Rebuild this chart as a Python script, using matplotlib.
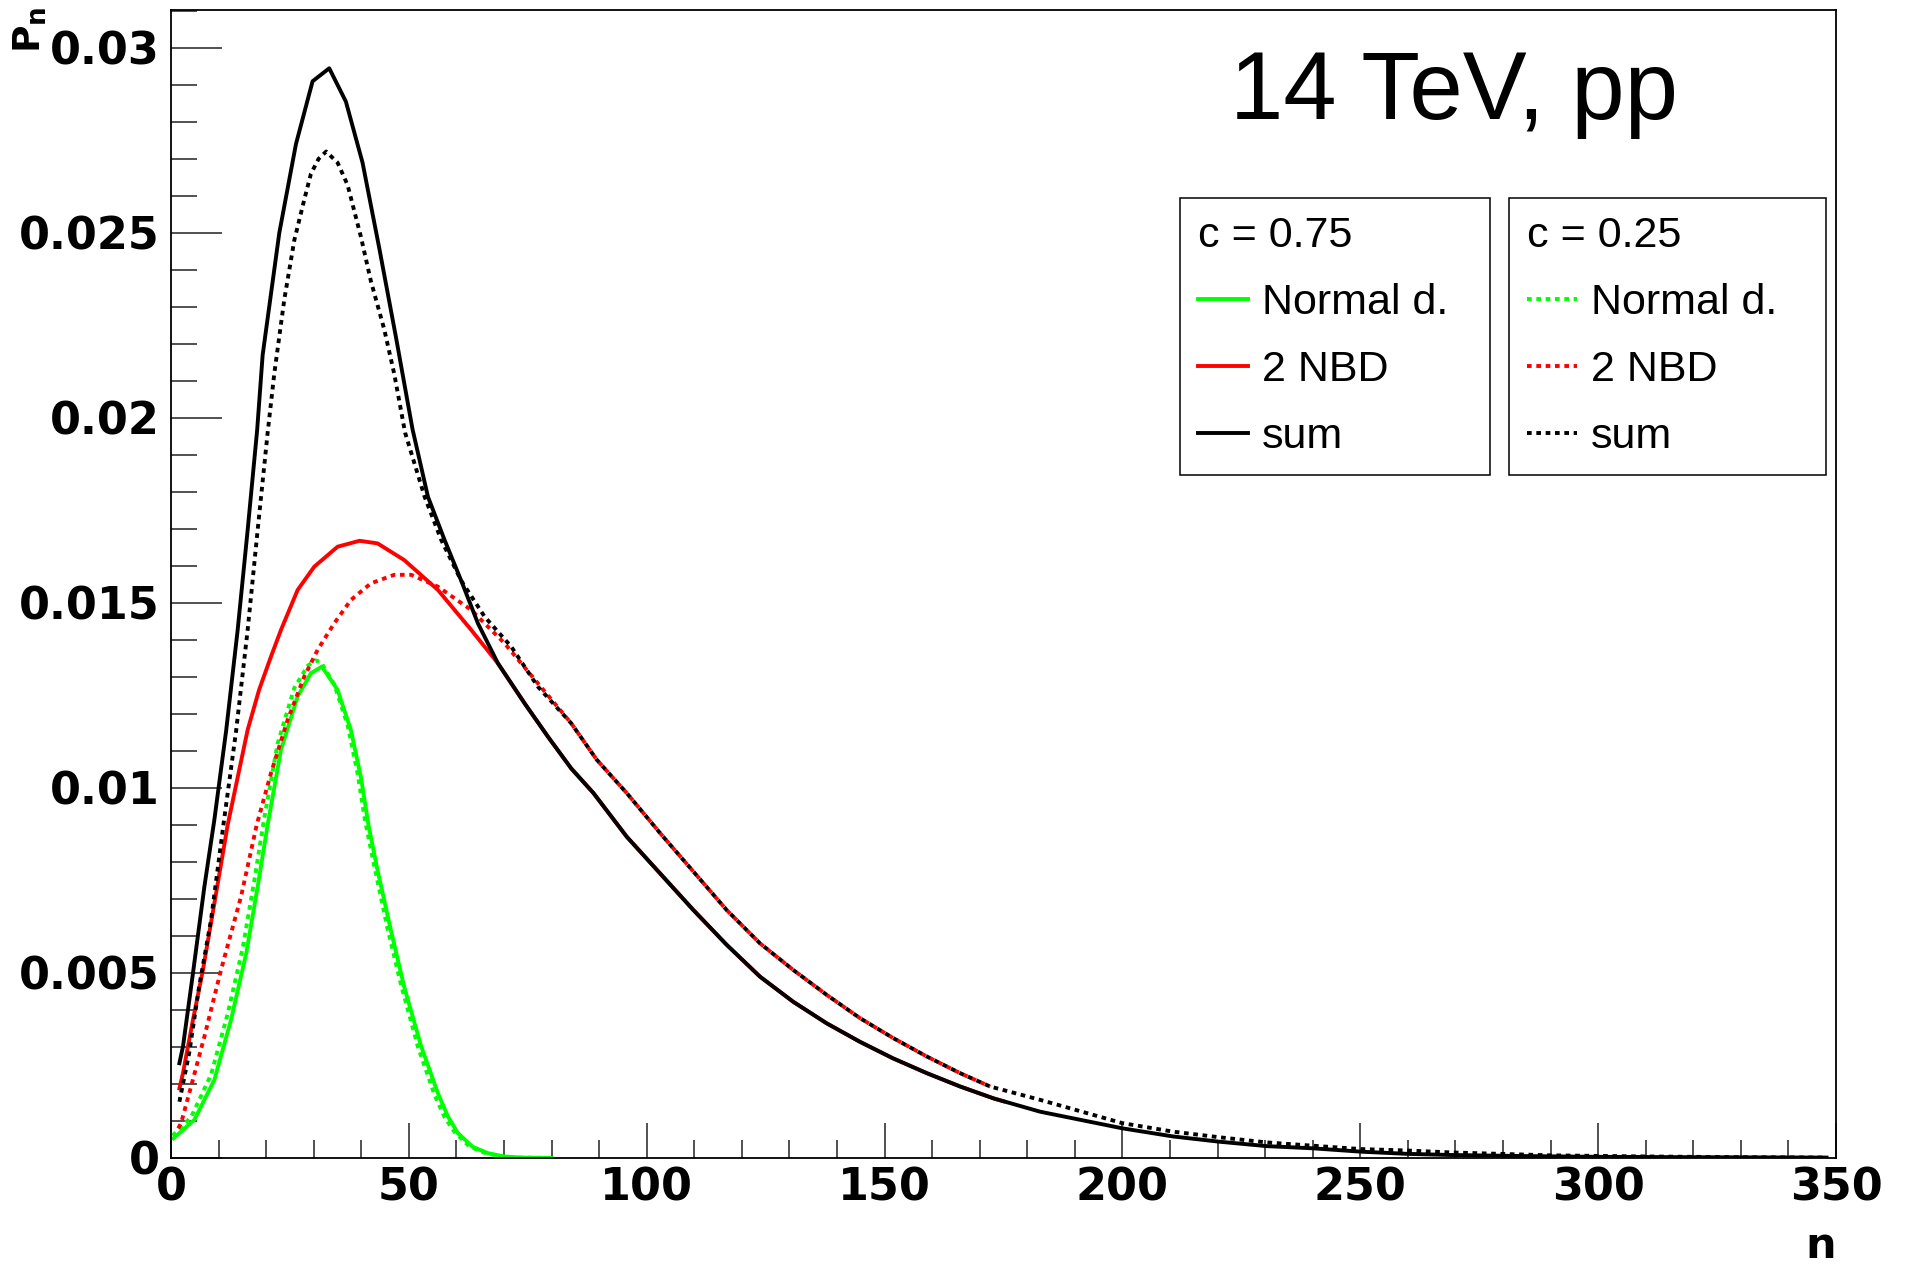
import matplotlib
matplotlib.use("Agg")
import matplotlib.pyplot as plt
from matplotlib.ticker import MultipleLocator

# values
# c = 0.75 (solid lines)
n_norm75 = [0.5, 4.9, 9.1, 12.6, 15.8, 18.2, 20.3, 23.1, 26.6, 29.4, 31.7, 35.0, 37.8, 39.9,
            41.5, 43.4, 46.2, 49.0, 52.6, 56.1, 58.2, 60.3, 63.4, 66.6, 70.0, 73.6, 80.0]
p_norm75 = [0.00053, 0.00103, 0.00211, 0.00373, 0.00553, 0.00733, 0.0090, 0.01103, 0.01247,
            0.0131, 0.01328, 0.01265, 0.01157, 0.0103, 0.0090, 0.00778, 0.00616, 0.00463,
            0.00301, 0.00175, 0.00112, 0.00067, 0.0003, 0.00013, 0.00004, 0.00001, 0.0]

n_nbd75 = [1.75, 2.5, 4.6, 6.7, 9.1, 11.9, 16.1, 18.5, 21.0, 23.1, 26.6, 30.1, 35.0, 39.6,
           43.4, 49.0, 56.1, 63.1, 68.7, 74.3, 79.2, 84.1, 88.8, 95.8, 102.8, 109.8, 116.8,
           123.8, 130.8, 137.8, 144.8, 151.8, 158.9, 165.9, 172.9, 175.0]
p_nbd75 = [0.00188, 0.00229, 0.00373, 0.00508, 0.00688, 0.0090, 0.01157, 0.01265, 0.01355,
           0.01427, 0.01535, 0.01598, 0.01652, 0.01668, 0.01661, 0.01616, 0.01535, 0.01427,
           0.01337, 0.01229, 0.01139, 0.01053, 0.00986, 0.00868, 0.00769, 0.0067, 0.00576,
           0.0049, 0.00422, 0.00364, 0.00314, 0.00269, 0.00229, 0.00193, 0.00161, 0.00153]

n_sum75 = [1.75, 2.5, 4.6, 7.0, 9.1, 11.6, 14.0, 16.1, 18.1, 19.25, 22.75, 26.25, 29.75,
           33.25, 36.75, 40.25, 43.75, 47.25, 50.75, 54.0, 57.5, 61.0, 64.5, 68.7, 74.3,
           79.2, 84.1, 88.8, 95.8, 102.8, 109.8, 116.8, 123.8, 130.8, 137.8, 144.8, 151.8,
           158.9, 165.9, 172.9, 182.7, 200.0, 210.7, 220.3, 230.3, 240.1, 250.1, 260.0,
           268.9, 285.0, 300.0, 320.0, 348.0]
p_sum75 = [0.00256, 0.00301, 0.00499, 0.00733, 0.00914, 0.01157, 0.01427, 0.01697, 0.01968,
           0.0217, 0.0250, 0.0274, 0.0291, 0.02945, 0.02855, 0.0269, 0.0246, 0.0222, 0.0197,
           0.01787, 0.0167, 0.0156, 0.01445, 0.01337, 0.01229, 0.01139, 0.01053, 0.00986,
           0.00868, 0.00769, 0.0067, 0.00576, 0.0049, 0.00422, 0.00364, 0.00314, 0.00269,
           0.00229, 0.00193, 0.00161, 0.00125, 0.0008, 0.00058, 0.00044, 0.00032, 0.00026,
           0.00017, 0.00011, 0.00008, 0.00005, 0.00003, 0.00002, 0.00001]

# c = 0.25 (dotted lines)
n_norm25 = [0.3, 4.2, 8.4, 11.9, 15.1, 17.5, 19.6, 22.4, 25.9, 28.7, 30.3, 31.5, 34.3, 37.1,
            39.2, 40.8, 42.7, 45.5, 48.3, 51.9, 55.4, 57.5, 59.6, 62.7, 65.9, 69.3, 72.9, 80.0]
p_norm25 = [0.0006, 0.0011, 0.00225, 0.0039, 0.0057, 0.0075, 0.0092, 0.0112, 0.0127, 0.0133,
            0.01345, 0.0134, 0.0128, 0.0117, 0.0104, 0.0091, 0.0079, 0.0062, 0.0047, 0.0030,
            0.0017, 0.0011, 0.0007, 0.00031, 0.00014, 0.00004, 0.00001, 0.0]

n_nbd25 = [1.5, 2.1, 4.2, 7.0, 10.5, 14.7, 18.0, 21.0, 24.5, 28.0, 30.8, 34.3, 37.8, 42.0,
           46.9, 50.5, 56.1, 63.1, 70.1, 77.1, 84.1, 89.5, 95.8, 102.8, 109.8, 116.8, 123.8,
           130.8, 137.8, 144.8, 151.8, 158.9, 165.9, 172.2]
p_nbd25 = [0.0008, 0.00094, 0.00193, 0.00328, 0.00508, 0.00706, 0.0090, 0.0104, 0.01184,
           0.01301, 0.01373, 0.01445, 0.01508, 0.01553, 0.01576, 0.01576, 0.01544, 0.01481,
           0.01391, 0.01283, 0.01175, 0.01076, 0.00986, 0.00878, 0.00774, 0.0067, 0.0058,
           0.00508, 0.00441, 0.00378, 0.00324, 0.00274, 0.00229, 0.00193]

n_sum25 = [1.75, 3.8, 5.9, 8.4, 11.0, 13.7, 16.1, 18.2, 20.3, 21.7, 23.8, 25.9, 28.0, 29.4,
           31.0, 32.6, 35.0, 37.1, 39.9, 42.0, 44.8, 46.9, 49.2, 53.3, 56.8, 61.0, 65.9,
           71.5, 77.1, 84.1, 89.5, 95.8, 102.8, 109.8, 116.8, 123.8, 130.8, 137.8, 144.8,
           151.8, 158.9, 165.9, 172.2, 182.7, 200.0, 210.7, 220.3, 230.3, 240.1, 250.1,
           260.0, 268.9, 290.0, 310.0, 330.0, 348.0]
p_sum25 = [0.00152, 0.00283, 0.00463, 0.00643, 0.009, 0.01157, 0.01427, 0.01697, 0.0196,
           0.0212, 0.0232, 0.0248, 0.0259, 0.0266, 0.0270, 0.0272, 0.0269, 0.0263, 0.0249,
           0.0237, 0.0224, 0.0212, 0.0196, 0.01787, 0.0167, 0.0156, 0.01463, 0.01382,
           0.01274, 0.01175, 0.01076, 0.00986, 0.00878, 0.00774, 0.0067, 0.0058, 0.00508,
           0.00441, 0.00378, 0.00324, 0.00274, 0.00229, 0.00193, 0.00157, 0.00094, 0.00071,
           0.00056, 0.00042, 0.00033, 0.00024, 0.0002, 0.00015, 0.00007, 0.00004, 0.00002,
           0.00001]

xticks = [0, 50, 100, 150, 200, 250, 300, 350]
yticks = [0, 0.005, 0.01, 0.015, 0.02, 0.025, 0.03]
yticklabels = ['0', '0.005', '0.01', '0.015', '0.02', '0.025', '0.03']
entry_labels = ['Normal d.', '2 NBD', 'sum']

fig = plt.figure(figsize=(19.05, 12.75), dpi=100)
ax = fig.add_axes([0.0898, 0.0918, 0.874, 0.9004])

lw = 2.8
dot = (0, (1.2, 1.2))
g75, = ax.plot(n_norm75, p_norm75, color='#00ff00', lw=lw)
g25, = ax.plot(n_norm25, p_norm25, color='#00ff00', lw=lw, ls=dot)
r75, = ax.plot(n_nbd75, p_nbd75, color='#ff0000', lw=lw)
r25, = ax.plot(n_nbd25, p_nbd25, color='#ff0000', lw=lw, ls=dot)
k75, = ax.plot(n_sum75, p_sum75, color='black', lw=lw)
k25, = ax.plot(n_sum25, p_sum25, color='black', lw=lw, ls=dot)

ax.set_xlim(0, 350)
ax.set_ylim(0, 0.031027)
ax.set_xticks(xticks)
ax.set_xticklabels([str(t) for t in xticks], fontfamily='DejaVu Sans',
                   fontweight='bold', fontsize=32)
ax.set_yticks(yticks)
ax.set_yticklabels(yticklabels, fontfamily='DejaVu Sans', fontweight='bold', fontsize=32)
ax.xaxis.set_minor_locator(MultipleLocator(10))
ax.yaxis.set_minor_locator(MultipleLocator(0.001))
ax.tick_params(which='both', direction='in', top=False, right=False, color='#222222')
ax.tick_params(axis='y', which='major', length=37, width=1.1, pad=8)
ax.tick_params(axis='y', which='minor', length=18.5, width=1.1)
ax.tick_params(axis='x', which='major', length=25, width=1.1, pad=6)
ax.tick_params(axis='x', which='minor', length=13, width=1.1)
for s in ax.spines.values():
    s.set_linewidth(1.3)

# title and axis labels (ROOT style)
fig.text(0.6457, 0.9067, '14 TeV, pp', fontsize=69, family='Liberation Sans',
         ha='left', va='baseline')
fig.text(0.9638, 0.006, 'n', fontsize=31, family='DejaVu Sans', fontweight='bold',
         ha='right', va='bottom')
fig.text(0.016, 0.995, r'$\mathbf{P_{n}}$', fontsize=27, rotation=90,
         ha='center', va='top')

# two legend boxes
font = dict(family='Liberation Sans', size=31)
common = dict(loc='upper left', mode='expand', borderaxespad=0, alignment='left',
              prop=font, title_fontproperties=font, frameon=True, fancybox=False,
              edgecolor='black', framealpha=1, borderpad=0.41, labelspacing=0.63,
              handlelength=1.17, handletextpad=0.32)
leg1 = ax.legend([g75, r75, k75], entry_labels, title='c = 0.75',
                 bbox_to_anchor=(0.606, 0.597, 0.186, 0.239), **common)
leg1.get_frame().set_linewidth(1.1)
ax.add_artist(leg1)
leg2 = ax.legend([g25, r25, k25], entry_labels, title='c = 0.25',
                 bbox_to_anchor=(0.8036, 0.599, 0.1904, 0.237), **common)
leg2.get_frame().set_linewidth(1.1)

fig.savefig('out.png', dpi=100)
